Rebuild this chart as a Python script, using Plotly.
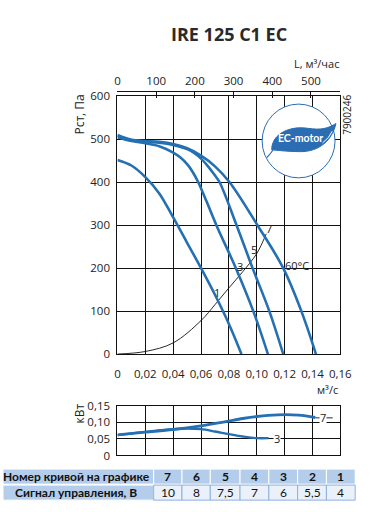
import plotly.graph_objects as go

W, H = 372, 512
def px(x): return x / W
def py(y): return 1 - y / H

FONT = "Open Sans"
TXT = "#222222"
BLUE = "#2470b3"

# ---------------- data ----------------
q_ticks = [0, 0.02, 0.04, 0.06, 0.08, 0.10, 0.12, 0.14, 0.16]
q_ticktext = ["0", "0,02", "0,04", "0,06", "0,08", "0,10", "0,12", "0,14", "0,16"]
L_ticks = [0, 100, 200, 300, 400, 500]
p_ticks = [0, 100, 200, 300, 400, 500, 600]
n_ticks = [0, 0.05, 0.10, 0.15]
n_ticktext = ["0", "0,05", "0,10", "0,15"]

curve1_q = [0, 0.01, 0.02, 0.03, 0.04, 0.05, 0.06, 0.07, 0.08, 0.089]
curve1_p = [452, 439, 412, 374, 318, 259, 200, 138, 70, 0]

curve3_q = [0, 0.01, 0.02, 0.03, 0.04, 0.045, 0.05, 0.054, 0.058, 0.064, 0.071, 0.085, 0.0975, 0.108]
curve3_p = [505, 496, 491, 484, 469, 458, 442, 424, 400, 355, 300, 200, 100, 0]

curve5_q = [0, 0.01, 0.02, 0.03, 0.04, 0.05, 0.055, 0.06, 0.065, 0.0695, 0.0733, 0.0855, 0.097, 0.109, 0.119]
curve5_p = [508, 498, 494, 492, 487, 477, 468, 455, 437, 418, 400, 300, 200, 100, 0]

curve7_q = [0, 0.01, 0.02, 0.03, 0.04, 0.05, 0.06, 0.07, 0.0805, 0.1005, 0.119, 0.132, 0.1425]
curve7_p = [510, 499, 496, 494, 489, 479, 462, 437, 400, 300, 200, 100, 0]

system_q = [0, 0.02, 0.04, 0.06, 0.07, 0.08, 0.09, 0.10, 0.1068]
system_p = [0, 6, 26, 78, 115, 154, 192, 234, 280]

curve_labels = ["1", "3", "5", "7"]
curve_label_q = [0.0713, 0.0881, 0.0978, 0.1085]
curve_label_p = [143, 203, 243, 292]

power7_q = [0, 0.02, 0.04, 0.06, 0.076, 0.09, 0.10, 0.115, 0.13, 0.142]
power7_n = [0.062, 0.070, 0.078, 0.089, 0.100, 0.111, 0.117, 0.122, 0.121, 0.114]
power3_q = [0, 0.02, 0.04, 0.05, 0.06, 0.07, 0.08, 0.09, 0.10, 0.1085]
power3_n = [0.061, 0.071, 0.079, 0.081, 0.079, 0.072, 0.064, 0.057, 0.052, 0.052]

table_curve_no = ["7", "6", "5", "4", "3", "2", "1"]
table_signal = ["10", "8", "7,5", "7", "6", "5,5", "4"]
table_row_titles = ["Номер кривой на графике", "Сигнал управления, В"]

# ---------------- figure ----------------
fig = go.Figure()

def curve(q, p, width=2.6, color=BLUE, xa="x", ya="y", smoothing=1.0):
    fig.add_trace(go.Scatter(x=q, y=p, mode="lines", xaxis=xa, yaxis=ya,
                             line=dict(color=color, width=width, shape="spline", smoothing=smoothing),
                             hoverinfo="skip", showlegend=False))

curve(system_q, system_p, width=0.9, color="#111111")
curve(curve1_q, curve1_p)
curve(curve3_q, curve3_p)
curve(curve5_q, curve5_p)
curve(curve7_q, curve7_p)

curve(power3_q, power3_n, width=2.4, xa="x3", ya="y2")
curve(power7_q, power7_n, width=2.8, xa="x3", ya="y2")

# carrier for the top (L, m3/h) axis
fig.add_trace(go.Scatter(x=[L_ticks[0], L_ticks[-1]], y=[None, None], xaxis="x2", yaxis="y",
                         mode="lines", hoverinfo="skip", showlegend=False))

xdom = [px(119.3), px(351.5)]
axis_common = dict(showline=True, linecolor="#111111", linewidth=1.3, mirror=True,
                   showgrid=True, gridcolor="#111111", gridwidth=1, zeroline=False,
                   tickfont=dict(family=FONT, size=11.5, color=TXT), ticks="")

fig.update_layout(
    width=W, height=H, margin=dict(l=0, r=0, t=0, b=0),
    paper_bgcolor="white", plot_bgcolor="white",
    xaxis=dict(domain=xdom, range=[0, 0.16], anchor="y", tickvals=q_ticks,
               ticktext=q_ticktext, ticklabelstandoff=9, **axis_common),
    yaxis=dict(domain=[py(356.5), py(91)], range=[0, 600], anchor="x",
               tickvals=p_ticks, ticklabelstandoff=4, **axis_common),
    xaxis2=dict(overlaying="x", side="top", anchor="free", position=py(85.5),
                range=[0, 0.16 * 3600], tickvals=L_ticks, ticks="inside", ticklen=6,
                tickcolor="#111111", tickwidth=1.2, showline=True, linecolor="#111111",
                linewidth=1.3, showgrid=False, zeroline=False, ticklabelstandoff=1,
                tickfont=dict(family=FONT, size=11.5, color=TXT)),
    xaxis3=dict(domain=xdom, range=[0, 0.16], anchor="y2", tickvals=q_ticks,
                showticklabels=False, **axis_common),
    yaxis2=dict(domain=[py(461), py(409.5)], range=[0, 0.15], anchor="x3",
                tickvals=n_ticks, ticktext=n_ticktext, ticklabelstandoff=4, **axis_common),
)

ann = []
shapes = []

def ptext(x, y, text, size=11, color=TXT, angle=0, weight="normal", xanchor="center", family=FONT, **kw):
    ann.append(dict(x=px(x), y=py(y), xref="paper", yref="paper", text=text, showarrow=False,
                    textangle=angle, xanchor=xanchor, yanchor="middle",
                    font=dict(family=family, size=size, color=color, weight=weight), **kw))

# titles
ptext(235, 27, "IRE 125 C1 EC", size=18, color="#2a2a2a", weight="bold")
ptext(352, 57, "L, м³/час", size=11, xanchor="right")
ptext(351, 393, "м³/с", size=11, xanchor="right")
ptext(80, 110, "Рст, Па", size=12, angle=-90)
ptext(80, 418, "кВт", size=12, angle=-90)
ptext(358.5, 110, "7900246", size=10, angle=-90)

# labels on curves
for t, q, p in zip(curve_labels, curve_label_q, curve_label_p):
    ann.append(dict(x=q, y=p, xref="x", yref="y", text=t, showarrow=False,
                    font=dict(family=FONT, size=11, color=TXT)))
ann.append(dict(x=0.1287, y=206, xref="x", yref="y", text="60°C", showarrow=False,
                font=dict(family=FONT, size=11, color=TXT)))

# lower chart leader labels
for q_end, n_end, lab in [(power7_q[-1], power7_n[-1], "7"), (power3_q[-1], power3_n[-1], "3")]:
    shapes.append(dict(type="line", xref="x3", yref="y2", x0=q_end, x1=q_end + 0.0125,
                       y0=n_end - 0.001, y1=n_end - 0.001, line=dict(color="#111111", width=0.9)))
    ann.append(dict(x=q_end + 0.0058, y=n_end, xref="x3", yref="y2", text=lab, showarrow=False,
                    bgcolor="white", borderpad=0,
                    font=dict(family=FONT, size=11, color=TXT)))

# EC-motor logo
cx, cy, r = 308, 137, 38
shapes.append(dict(type="circle", xref="paper", yref="paper", x0=px(cx - r), x1=px(cx + r),
                   y0=py(cy + r), y1=py(cy - r), fillcolor="white",
                   line=dict(color="#2a6db3", width=1), layer="above"))
leaf = [(280, 146), (280, 129), (300, 121), (318, 124), (331, 126), (339, 124), (347, 119),
        (343, 136), (330, 148), (310, 148), (299, 148), (289, 147), (280, 146)]
def P(pt): return f"{px(pt[0]):.5f},{py(pt[1]):.5f}"
path = f"M {P(leaf[0])} C {P(leaf[1])} {P(leaf[2])} {P(leaf[3])} C {P(leaf[4])} {P(leaf[5])} {P(leaf[6])} " \
       f"C {P(leaf[7])} {P(leaf[8])} {P(leaf[9])} C {P(leaf[10])} {P(leaf[11])} {P(leaf[12])} Z"
shapes.append(dict(type="path", xref="paper", yref="paper", path=path, fillcolor="#2a6db3",
                   line=dict(color="#2a6db3", width=1), layer="above"))
shapes.append(dict(type="path", xref="paper", yref="paper",
                   path=f"M {P((283,144))} Q {P((279,150))} {P((275,154))}",
                   line=dict(color="#2a6db3", width=1.2), layer="above"))
shapes.append(dict(type="path", xref="paper", yref="paper",
                   path=f"M {P((333,139))} Q {P((340,134))} {P((343,127))}",
                   line=dict(color="white", width=1), layer="above"))
ptext(310, 134, "EC-motor", size=10.5, color="white", weight="bold", family="Lato")

# table
col_edges = [0, 157, 186.5, 216, 247, 277, 307, 337, 367]
row_edges = [(475, 490.5), (491.5, 507)]
HEAD = "#b3cdeb"
LIGHT = "#eaf1fa"
BORDER = "#8db2dd"
for ri, (y0, y1) in enumerate(row_edges):
    for ci in range(len(col_edges) - 1):
        xa, xb = col_edges[ci], col_edges[ci + 1]
        if ri == 0 or ci == 0:
            fill, lc = HEAD, "white"
        else:
            fill, lc = LIGHT, BORDER
        shapes.append(dict(type="rect", xref="paper", yref="paper", x0=px(xa), x1=px(xb),
                           y0=py(y1), y1=py(y0), fillcolor=fill, line=dict(color=lc, width=1)))
for ri, (y0, y1) in enumerate(row_edges):
    ptext(col_edges[1] / 2 - 2, (y0 + y1) / 2, table_row_titles[ri], size=12, weight="bold",
          color="#111111", family="Lato")
    vals = table_curve_no if ri == 0 else table_signal
    for ci, v in enumerate(vals):
        ptext((col_edges[ci + 1] + col_edges[ci + 2]) / 2, (y0 + y1) / 2, v, size=12,
              weight="bold" if ri == 0 else "normal", color="#111111", family="Lato")

fig.update_layout(annotations=ann, shapes=shapes)
fig.write_html("out.html")
